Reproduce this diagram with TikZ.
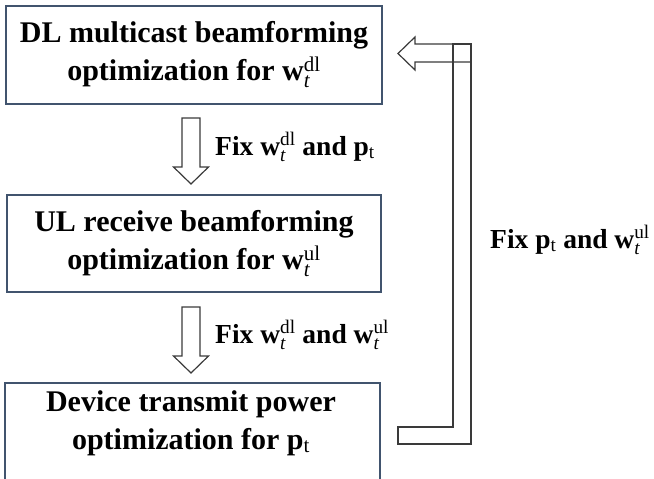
\documentclass[tikz,border=0pt]{standalone}
\usepackage{amsmath}
\usepackage{fontspec}
\setmainfont{Liberation Serif}
% bold vector with upright superscript and italic subscript t
\newcommand\vw[1]{\textbf{w}$^{\text{\mdseries #1}}_{\text{\mdseries\itshape t}}$}
\newcommand\vp{\textbf{p}$_{\text{\mdseries t}}$}
\definecolor{boxblue}{HTML}{41546E}
\definecolor{arrowgray}{HTML}{3A3A3A}
\tikzset{
  stagebox/.style={draw=boxblue, line width=1.8pt, fill=white, inner sep=0pt},
  stagetext/.style={font=\fontsize{30}{38}\selectfont\bfseries, align=center, inner sep=0pt},
  fixlabel/.style={font=\fontsize{27.5}{32}\selectfont\bfseries, anchor=base west, inner sep=0pt},
  blockarrow/.style={draw=arrowgray, line width=1.2pt, line join=miter},
}
\begin{document}
\begin{tikzpicture}[x=1pt, y=-1pt]
  \useasboundingbox (0,0) rectangle (654,479);

  % stage 1: downlink beamforming
  \node[stagebox, minimum width=376pt, minimum height=98pt] (dl) at (194,55) {};
  \node[stagetext] (dltext) at (dl.center) {DL multicast beamforming\\optimization for \vw{dl}};

  % stage 2: uplink beamforming
  \node[stagebox, minimum width=374pt, minimum height=97pt] (ul) at (194,243.5) {};
  \node[stagetext] (ultext) at (ul.center) {UL receive beamforming\\optimization for \vw{ul}};

  % stage 3: device power (box runs past the lower edge)
  \draw[stagebox] (5,383) rectangle (380,500);
  \node[stagetext] (pwtext) at (191,423) {Device transmit power\\optimization for \vp};

  % block arrows between the stages
  \coordinate (a1) at (191,118);
  \coordinate (a2) at (191,307);
  \foreach \c in {a1,a2}
    \draw[blockarrow] (\c) ++(-9,0) -- ++(18,0) -- ++(0,49) -- ++(8.5,0)
      -- ++(-17.5,17) -- ++(-17.5,-17) -- ++(8.5,0) -- cycle;

  \node[fixlabel] (fix1) at (215,155) {Fix \vw{dl} and \vp};
  \node[fixlabel] (fix2) at (215,343) {Fix \vw{dl} and \vw{ul}};

  % feedback loop from stage 3 back to stage 1
  \draw[blockarrow] (398,427) -- (453,427) -- (453,44) -- (471,44)
    -- (471,444) -- (398,444) -- cycle;
  \draw[blockarrow] (471,44) -- (415,44) -- (415,37) -- (398,53.5)
    -- (415,70) -- (415,62) -- (471,62) -- cycle;

  \node[fixlabel] (fix3) at (490,248) {Fix \vp{} and \vw{ul}};
\end{tikzpicture}
\end{document}
